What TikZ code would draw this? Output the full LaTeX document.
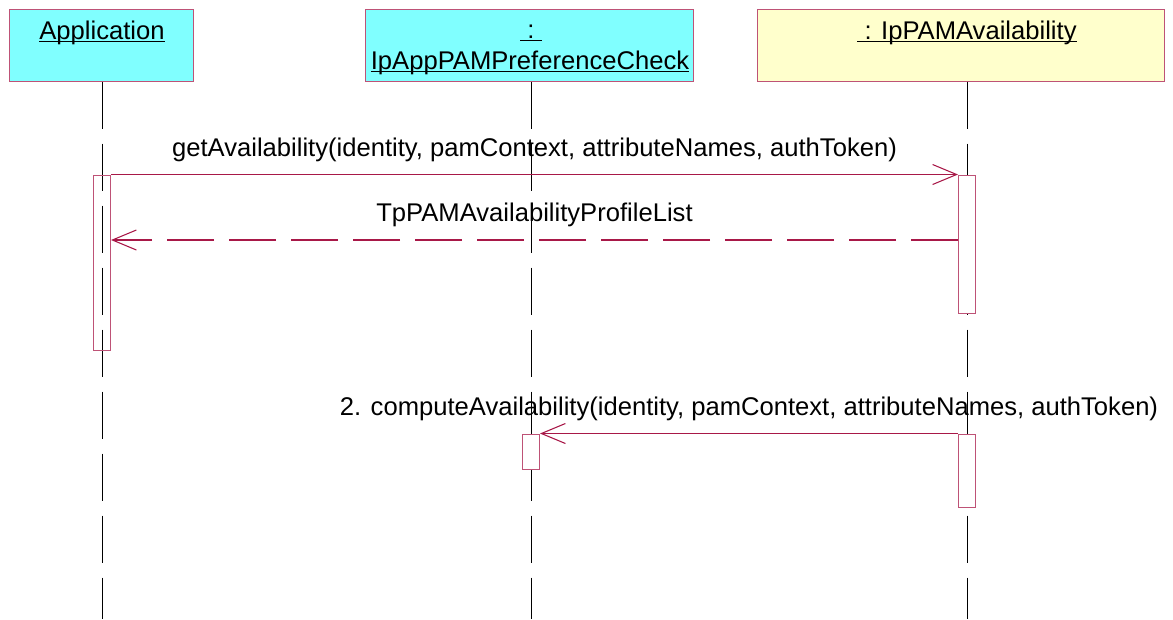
\documentclass[tikz,border=0pt]{standalone}
\usepackage{fontspec}
\setmainfont{Liberation Sans}
\usetikzlibrary{arrows.meta}

\definecolor{umlred}{RGB}{168,24,72}
\definecolor{boxcyan}{RGB}{128,255,255}
\definecolor{boxyellow}{RGB}{255,255,204}

\newsavebox{\ulbox}
\newcommand{\ulname}[1]{\sbox{\ulbox}{#1}\rlap{\rule[-2.6pt]{\wd\ulbox}{0.75pt}}\usebox{\ulbox}}

\begin{document}
\begin{tikzpicture}[x=0.75pt,y=-0.75pt,
            obj/.style={draw=umlred!75, line width=0.75pt, minimum height=54pt, inner sep=0pt},
            act/.style={draw=umlred!75, line width=0.75pt, fill=white, minimum width=12.75pt, inner sep=0pt},
            lifeline/.style={line width=0.75pt, dash pattern=on 35.25pt off 11.25pt},
            msg/.style={draw=umlred, line width=0.8pt, -{Straight Barb[length=18pt,width=15pt]}},
            reply/.style={msg, dash pattern=on 35.25pt off 11.25pt},
            lbl/.style={anchor=base, inner sep=0pt, font=\fontsize{19.2}{23}\selectfont}]
            \useasboundingbox (0,0) rectangle (1173,619);

            % objects
            \node[obj, fill=boxcyan, minimum width=138pt]     (app)  at (101,45)   {};
            \node[obj, fill=boxcyan, minimum width=246pt]     (pref) at (529,45)   {};
            \node[obj, fill=boxyellow, minimum width=305.25pt] (pam) at (960.5,45) {};
            \node[lbl] (appName)   at (102,39) {\ulname{Application}};
            \node[lbl] (prefColon) at (531,38) {\ulname{\ :\ }};
            \node[lbl] (prefName)  at (530,69) {\ulname{IpAppPAMPreferenceCheck}};
            \node[lbl] (pamName)   at (967,39) {\ulname{\ : IpPAMAvailability}};

            % lifelines
            \coordinate (appEnd)  at (102,619);
            \coordinate (prefEnd) at (531,619);
            \coordinate (pamEnd)  at (967,619);
            \draw[lifeline] (app.south -| appEnd)   -- (appEnd);
            \draw[lifeline] (pref.south -| prefEnd) -- (prefEnd);
            \draw[lifeline] (pam.south -| pamEnd)   -- (pamEnd);

            % activations
            \node[act, fill=none, minimum height=131.25pt] (appAct)  at (102,262.5) {};
            \node[act, minimum height=103.5pt]             (pamAct1) at (967,244)   {};
            \node[act, minimum height=26.25pt]             (prefAct) at (531,451.5) {};
            \node[act, minimum height=54.75pt]             (pamAct2) at (967,470.5) {};

            % messages
            \coordinate (replyRow) at (0,240);
            \draw[msg] (appAct.north east) -- node[lbl, yshift=13.5pt] (getLbl)
                {getAvailability(identity, pamContext, attributeNames, authToken)} (pamAct1.north west);
            \draw[reply] (pamAct1.west |- replyRow) -- node[lbl, yshift=14.25pt] (retLbl)
                {TpPAMAvailabilityProfileList} (appAct.east |- replyRow);
            \draw[msg] (pamAct2.north west) -- node[lbl, yshift=13.5pt] (computeLbl)
                {2. computeAvailability(identity, pamContext, attributeNames, authToken)} (prefAct.north east);

\end{tikzpicture}
\end{document}
